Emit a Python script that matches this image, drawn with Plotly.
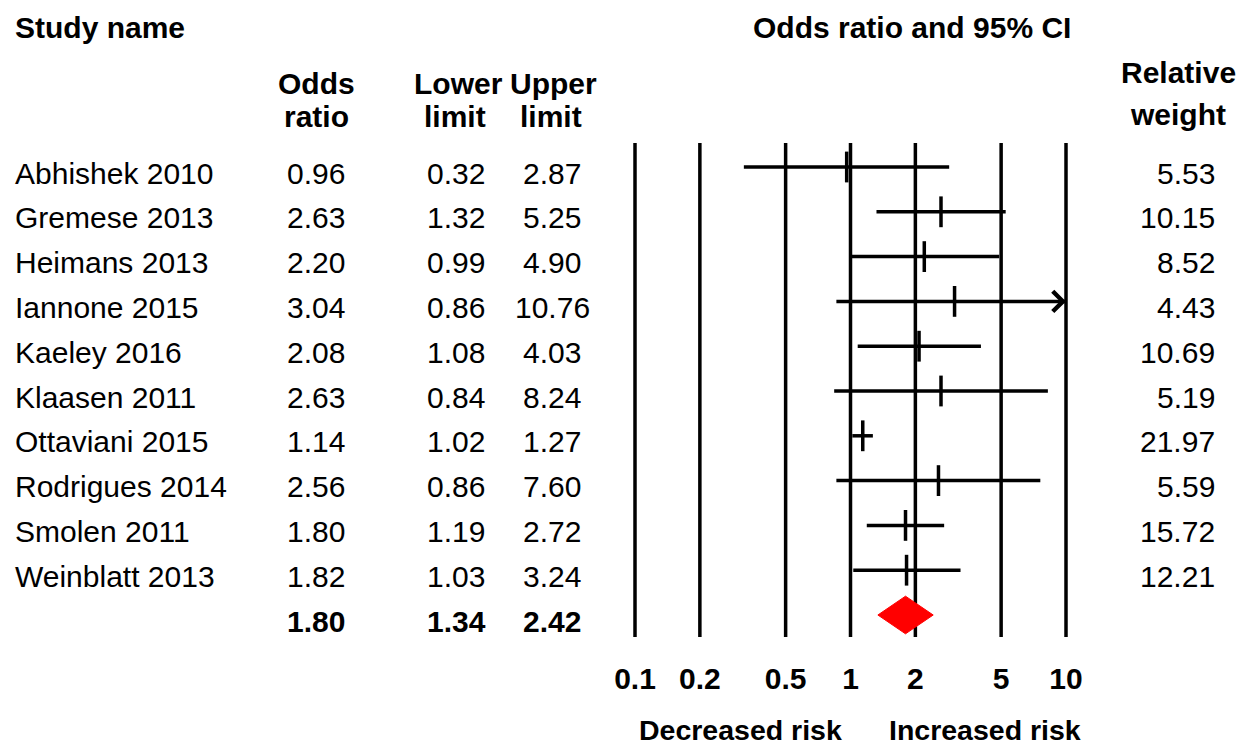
import numpy as np
import plotly.graph_objects as go

# ---------------- data ----------------
studies = ["Abhishek 2010", "Gremese 2013", "Heimans 2013", "Iannone 2015",
           "Kaeley 2016", "Klaasen 2011", "Ottaviani 2015", "Rodrigues 2014",
           "Smolen 2011", "Weinblatt 2013"]
odds_ratio = [0.96, 2.63, 2.20, 3.04, 2.08, 2.63, 1.14, 2.56, 1.80, 1.82]
lower_limit = [0.32, 1.32, 0.99, 0.86, 1.08, 0.84, 1.02, 0.86, 1.19, 1.03]
upper_limit = [2.87, 5.25, 4.90, 10.76, 4.03, 8.24, 1.27, 7.60, 2.72, 3.24]
rel_weight = [5.53, 10.15, 8.52, 4.43, 10.69, 5.19, 21.97, 5.59, 15.72, 12.21]

summary_or = 1.80
summary_lower = 1.34
summary_upper = 2.42

tick_vals = [0.1, 0.2, 0.5, 1, 2, 5, 10]
tick_text = ["0.1", "0.2", "0.5", "1", "2", "5", "10"]

# ---------------- layout constants ----------------
W, H = 1250, 750
FONT = "Liberation Sans, Arial, sans-serif"
FS = 30
ROW0_PX = 167.0      # pixel y of first row
ROW_PX = 44.8        # pixel spacing of rows
X_LO_PX, X_HI_PX = 635.0, 1066.0   # pixel x of 0.1 and 10
AX_MIN, AX_MAX = 0.1, 10.0
PX_DEC = (X_HI_PX - X_LO_PX) / (np.log10(AX_MAX) - np.log10(AX_MIN))
x_range = [np.log10(AX_MIN) - X_LO_PX / PX_DEC,
           np.log10(AX_MAX) + (W - X_HI_PX) / PX_DEC]
y_range = [(H - ROW0_PX) / ROW_PX, -ROW0_PX / ROW_PX]

n = len(studies)
rows = list(range(n))
sum_row = n


def px_to_row(py):
    return (py - ROW0_PX) / ROW_PX


def paper_x(px):
    return px / W


def paper_y(py):
    return 1 - py / H


fig = go.Figure()

# vertical reference lines
vx, vy = [], []
for v in tick_vals:
    vx += [v, v, None]
    vy += [px_to_row(143), px_to_row(637), None]
fig.add_trace(go.Scatter(x=vx, y=vy, mode="lines",
                         line=dict(color="black", width=3.5),
                         hoverinfo="skip", showlegend=False))

# confidence interval lines
cx, cy = [], []
for i in rows:
    cx += [max(lower_limit[i], AX_MIN), min(upper_limit[i], AX_MAX), None]
    cy += [i, i, None]
fig.add_trace(go.Scatter(x=cx, y=cy, mode="lines",
                         line=dict(color="black", width=3.5),
                         hoverinfo="skip", showlegend=False))

# point estimates
fig.add_trace(go.Scatter(x=odds_ratio, y=rows, mode="markers",
                         marker=dict(symbol="line-ns", size=22,
                                     line=dict(color="black", width=3.5)),
                         hoverinfo="skip", showlegend=False))

# summary diamond
DH = 0.42
fig.add_trace(go.Scatter(
    x=[summary_lower, summary_or, summary_upper, summary_or, summary_lower],
    y=[sum_row, sum_row - DH, sum_row, sum_row + DH, sum_row],
    mode="lines", fill="toself", fillcolor="#ff0000",
    line=dict(color="#ff0000", width=1),
    hoverinfo="skip", showlegend=False))

# tick labels
fig.add_trace(go.Scatter(x=tick_vals, y=[px_to_row(681)] * len(tick_vals),
                         mode="text", text=tick_text,
                         textfont=dict(family=FONT, size=FS, color="black",
                                       weight="bold"),
                         hoverinfo="skip", showlegend=False))

annotations = []

# arrows for clipped intervals
for i in rows:
    if upper_limit[i] > AX_MAX:
        annotations.append(dict(
            x=np.log10(AX_MAX), y=i, xref="x", yref="y",
            ax=np.log10(AX_MAX) - 0.05, ay=i, axref="x", ayref="y",
            showarrow=True, arrowhead=4, arrowsize=1.3, arrowwidth=3,
            arrowcolor="black", text=""))


def txt(text, x, y, xanchor="center", yref="paper", bold=False, yshift=0,
        size=FS):
    annotations.append(dict(
        text=f"<b>{text}</b>" if bold else text,
        x=x, y=y, xref="paper", yref=yref, xanchor=xanchor, yanchor="middle",
        showarrow=False, yshift=yshift, borderpad=0,
        font=dict(family=FONT, size=size, color="black")))


# headers
txt("Study name", paper_x(14), paper_y(27), xanchor="left", bold=True)
txt("Odds ratio and 95% CI", paper_x(912), paper_y(27), bold=True)
txt("Odds", paper_x(316), paper_y(83), bold=True)
txt("ratio", paper_x(316), paper_y(116), bold=True)
txt("Lower", paper_x(458), paper_y(83), bold=True)
txt("limit", paper_x(455), paper_y(116), bold=True)
txt("Upper", paper_x(553), paper_y(83), bold=True)
txt("limit", paper_x(551), paper_y(116), bold=True)
txt("Relative", paper_x(1178), paper_y(73), bold=True)
txt("weight", paper_x(1178), paper_y(114), bold=True)
txt("Decreased risk", paper_x(740), paper_y(730), bold=True, size=28.5)
txt("Increased risk", paper_x(985), paper_y(730), bold=True, size=28.5)

# rows
YS = -6
for i in rows:
    txt(studies[i], paper_x(14), i, xanchor="left", yref="y", yshift=YS)
    txt(f"{odds_ratio[i]:.2f}", paper_x(316), i, yref="y", yshift=YS)
    txt(f"{lower_limit[i]:.2f}", paper_x(456), i, yref="y", yshift=YS)
    txt(f"{upper_limit[i]:.2f}", paper_x(552), i, yref="y", yshift=YS)
    txt(f"{rel_weight[i]:.2f}", paper_x(1216), i, xanchor="right", yref="y", yshift=YS)

txt(f"{summary_or:.2f}", paper_x(316), sum_row, yref="y", bold=True, yshift=YS)
txt(f"{summary_lower:.2f}", paper_x(456), sum_row, yref="y", bold=True, yshift=YS)
txt(f"{summary_upper:.2f}", paper_x(552), sum_row, yref="y", bold=True, yshift=YS)

fig.update_layout(
    width=W, height=H, autosize=False,
    margin=dict(l=0, r=0, t=0, b=0, pad=0),
    paper_bgcolor="white", plot_bgcolor="white",
    xaxis=dict(type="log", range=x_range, visible=False, fixedrange=True),
    yaxis=dict(range=y_range, visible=False, fixedrange=True),
    annotations=annotations,
    showlegend=False,
)

fig.write_html("out.html", config={"displayModeBar": False},
               post_script="document.body.style.margin='0';")
